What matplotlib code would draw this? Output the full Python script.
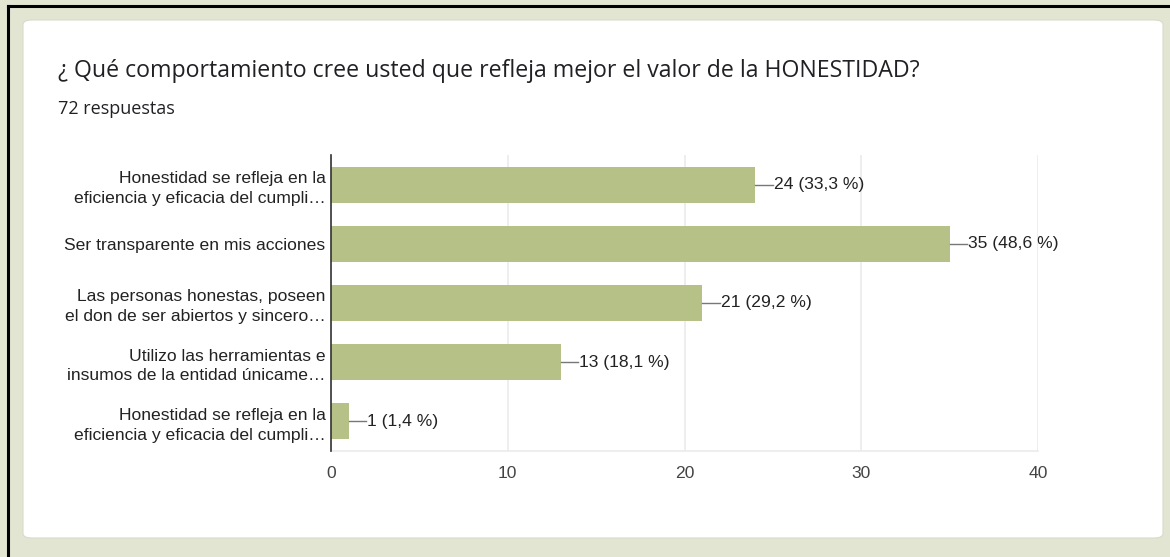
import matplotlib
matplotlib.use("Agg")
import matplotlib.pyplot as plt
from matplotlib.patches import FancyBboxPatch
from matplotlib.lines import Line2D

title = "¿ Qué comportamiento cree usted que refleja mejor el valor de la HONESTIDAD?"
subtitle = "72 respuestas"
categories = [
    "Honestidad se refleja en la\neficiencia y eficacia del cumpli…",
    "Ser transparente en mis acciones",
    "Las personas honestas, poseen\nel don de ser abiertos y sincero…",
    "Utilizo las herramientas e\ninsumos de la entidad únicame…",
    "Honestidad se refleja en la\neficiencia y eficacia del cumpli…",
]
counts = [24, 35, 21, 13, 1]
percents = ["33,3", "48,6", "29,2", "18,1", "1,4"]
xticks = [0, 10, 20, 30, 40]

W, H = 1170, 557
fig = plt.figure(figsize=(W / 100, H / 100), dpi=100)
fig.patch.set_facecolor("#e2e5d1")

# white card
card = FancyBboxPatch((23 / W, 1 - 538 / H), (1163 - 23) / W, (538 - 20) / H,
                      boxstyle="round,pad=0,rounding_size=0.008",
                      transform=fig.transFigure, facecolor="white",
                      edgecolor="#d8dbcc", linewidth=0.8, zorder=-5)
fig.patches.append(card)
# black frame (top and left)
fig.add_artist(Line2D([8 / W, 1], [1 - 6 / H, 1 - 6 / H], color="black", lw=2.2, transform=fig.transFigure))
fig.add_artist(Line2D([8 / W, 8 / W], [0, 1 - 6 / H], color="black", lw=2.2, transform=fig.transFigure))

fig.text(58 / W, 1 - 71 / H, title, fontsize=16.7, color="#202124",
         family="Open Sans", va="center", ha="left")
fig.text(58 / W, 1 - 109 / H, subtitle, fontsize=13, color="#202124",
         family="Open Sans", va="center", ha="left")

ax = fig.add_axes([331 / W, 1 - 451 / H, (1038 - 331) / W, (451 - 155) / H])
ax.set_zorder(2)
ax.set_facecolor("none")
y = list(range(len(categories)))
ax.barh(y, counts, height=0.61, color="#b5c186", zorder=3)
ax.set_ylim(len(categories) - 0.5, -0.5)
ax.set_xlim(0, 40)
ax.set_xticks(xticks)
ax.set_xticklabels([str(t) for t in xticks], fontsize=12.6, color="#444444", family="Liberation Sans")
ax.set_yticks(y)
ax.set_yticklabels(categories, fontsize=12.6, color="#222222", family="Liberation Sans",
                   linespacing=1.4)
ax.tick_params(axis="both", length=0)
ax.tick_params(axis="y", pad=4)
ax.tick_params(axis="x", pad=11)
ax.grid(axis="x", color="#ebebeb", lw=1.2, zorder=0)
for s in ["top", "right"]:
    ax.spines[s].set_visible(False)
ax.spines["bottom"].set_color("#ebebeb")
ax.spines["bottom"].set_linewidth(1.2)
ax.spines["left"].set_color("#333333")
ax.spines["left"].set_linewidth(1.2)
ax.spines["left"].set_zorder(4)

for yi, c, p in zip(y, counts, percents):
    ax.plot([c, c + 1.0], [yi, yi], color="#777777", lw=1, zorder=3, clip_on=False)
    ax.text(c + 1.05, yi, f"{c} ({p} %)", va="center", ha="left", fontsize=12.6,
            color="#222222", family="Liberation Sans")

fig.savefig("out.png", dpi=100, facecolor=fig.get_facecolor())
